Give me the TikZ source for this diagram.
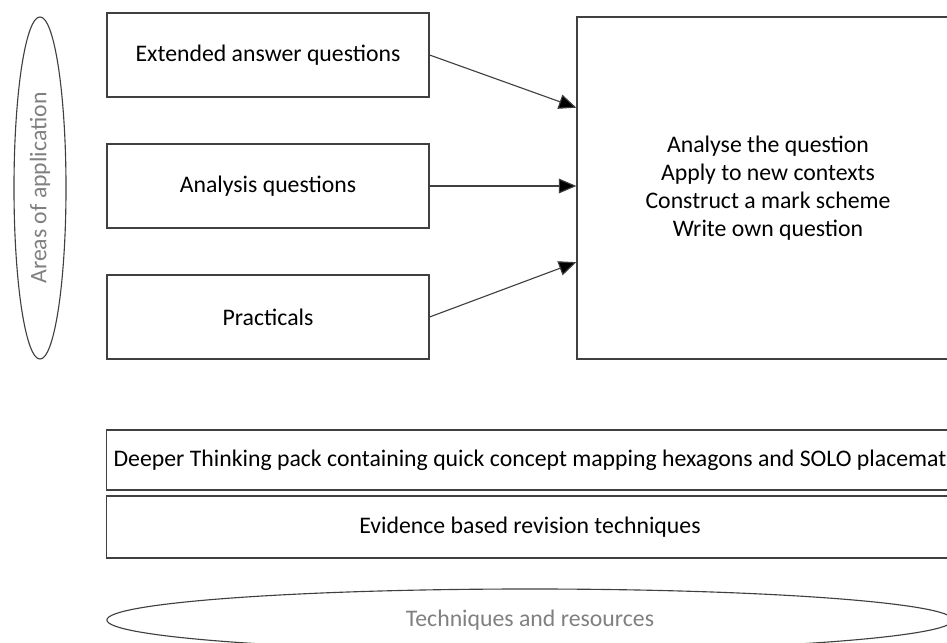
\documentclass[tikz,border=0pt]{standalone}
\usepackage{fontspec}
\setmainfont{Carlito}
\usetikzlibrary{calc,arrows.meta,shapes.geometric}
\tikzset{box/.style = {draw=black!75, line width=0.8pt, inner sep=0pt, align=center,
                        font=\fontsize{16.9}{20}\selectfont},
         oval/.style = {ellipse, draw=black!75, line width=0.8pt, inner sep=0pt,
                        text=black!50, font=\fontsize{16.9}{20}\selectfont},
         ->/.style = {-{Triangle[length=12.5pt,width=10.5pt,fill=black]}, draw=black!75, line width=0.8pt}}

\begin{document}
\begin{tikzpicture}[x = 0.025cm, y = -0.025cm]
\useasboundingbox (0,0) rectangle (947,643);
\clip (0,0) rectangle (947,643);
\node [oval, rotate=90, minimum width=8.55cm, minimum height=1.3cm] (areas) at (40,188) {Areas of application};
\node [box, minimum width=8.05cm, minimum height=2.1cm] (ext) at (268,55) {Extended answer questions};
\node [box, minimum width=8.05cm, minimum height=2.1cm] (ana) at (268,186) {Analysis questions};
\node [box, minimum width=8.05cm, minimum height=2.1cm] (prac) at (268,317) {Practicals};
\node [box, minimum width=9.55cm, minimum height=8.55cm] (skills) at (768,188)
      {Analyse the question\\Apply to new contexts\\Construct a mark scheme\\Write own question};
\draw [->] (ext.east) -- ($(skills.north west)!0.266!(skills.south west)$);
\draw [->] (ana.east) -- (skills.west |- ana.east);
\draw [->] (prac.east) -- ($(skills.north west)!0.716!(skills.south west)$);
\node [box, minimum width=21.15cm, minimum height=1.5cm] (pack) at (530,460)
      {Deeper Thinking pack containing quick concept mapping hexagons and SOLO placemat};
\node [box, minimum width=21.15cm, minimum height=1.55cm] (revision) at (530,527) {Evidence based revision techniques};
\node [oval, minimum width=21.15cm, minimum height=1.55cm] (tech) at (530,620) {Techniques and resources};
\end{tikzpicture}
\end{document}
